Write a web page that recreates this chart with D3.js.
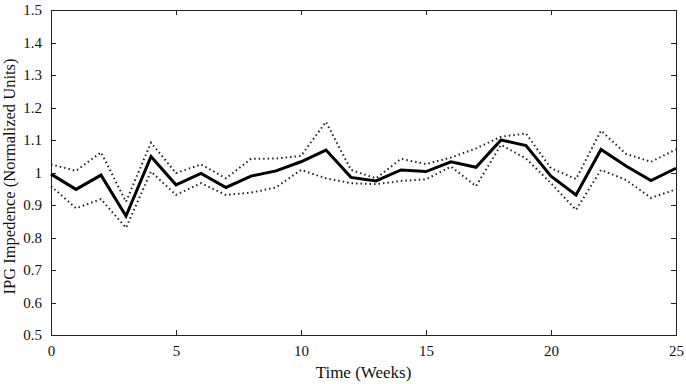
<!DOCTYPE html>
<meta charset="utf-8">
<style>
body { margin: 0; background: #fff; }
text { font-family: "Liberation Serif", "Times New Roman", serif; fill: #111; }
.axis path, .axis line { stroke: #222; stroke-width: 1px; shape-rendering: crispEdges; }
.axis text { font-size: 15px; }
.mean { fill: none; stroke: #000; stroke-width: 3px; stroke-linejoin: miter; }
.band { fill: none; stroke: #222; stroke-width: 2px; stroke-dasharray: 1.5,3; }
</style>
<body>
<script src="https://d3js.org/d3.v7.min.js"></script>
<script>

// chart data
var weeks = d3.range(0, 26);
var meanVals  = [0.995, 0.948, 0.992, 0.866, 1.049, 0.962, 0.997, 0.954, 0.989, 1.005, 1.033, 1.069, 0.985,
                 0.974, 1.008, 1.003, 1.033, 1.016, 1.100, 1.083, 0.989, 0.931, 1.071, 1.020, 0.975, 1.013];
var upperVals = [1.025, 1.005, 1.062, 0.910, 1.092, 0.998, 1.025, 0.982, 1.042, 1.043, 1.051, 1.156, 1.008,
                 0.982, 1.042, 1.026, 1.046, 1.074, 1.110, 1.120, 1.013, 0.980, 1.129, 1.057, 1.033, 1.071];
var lowerVals = [0.958, 0.890, 0.918, 0.830, 1.003, 0.931, 0.967, 0.931, 0.938, 0.954, 1.008, 0.982, 0.967,
                 0.964, 0.974, 0.979, 1.018, 0.958, 1.085, 1.043, 0.967, 0.885, 1.008, 0.977, 0.922, 0.948];
var xTicks = [0, 5, 10, 15, 20, 25];
var yTicks = [0.5, 0.6, 0.7, 0.8, 0.9, 1, 1.1, 1.2, 1.3, 1.4, 1.5];

var margin = {top: 10, right: 10, bottom: 49, left: 51},
    width = 686 - margin.left - margin.right,
    height = 384 - margin.top - margin.bottom;

var x = d3.scaleLinear().domain([0, 25]).range([0, width]);
var y = d3.scaleLinear().domain([0.5, 1.5]).range([height, 0]);

var svg = d3.select("body").append("svg")
    .attr("width", 686)
    .attr("height", 384)
  .append("g")
    .attr("transform", "translate(" + margin.left + "," + margin.top + ")");

// box frame with inward ticks
svg.append("g").attr("class", "axis")
    .attr("transform", "translate(0," + height + ")")
    .call(d3.axisBottom(x).tickValues(xTicks).tickSize(-5).tickPadding(10).tickFormat(d3.format("d")));
svg.append("g").attr("class", "axis")
    .call(d3.axisTop(x).tickValues(xTicks).tickSize(-5).tickFormat(""));
svg.append("g").attr("class", "axis")
    .call(d3.axisLeft(y).tickValues(yTicks).tickSize(-5).tickPadding(9).tickFormat(function(d) { return d === 1 ? "1" : d3.format(".1f")(d); }));
svg.append("g").attr("class", "axis")
    .attr("transform", "translate(" + width + ",0)")
    .call(d3.axisRight(y).tickValues(yTicks).tickSize(-5).tickFormat(""));

var line = function(vals) {
  return d3.line()
    .x(function(d, i) { return x(weeks[i]); })
    .y(function(d) { return y(d); })(vals);
};

svg.append("path").attr("class", "band").attr("d", line(upperVals));
svg.append("path").attr("class", "band").attr("d", line(lowerVals));
svg.append("path").attr("class", "mean").attr("d", line(meanVals));

// axis titles
svg.append("text")
    .attr("x", width / 2)
    .attr("y", height + 43)
    .attr("text-anchor", "middle")
    .style("font-size", "17px")
    .text("Time (Weeks)");

svg.append("text")
    .attr("transform", "rotate(-90)")
    .attr("x", -height / 2 - 4)
    .attr("y", -36)
    .attr("text-anchor", "middle")
    .style("font-size", "16.5px")
    .text("IPG Impedence (Normalized Units)");

</script>
</body>
